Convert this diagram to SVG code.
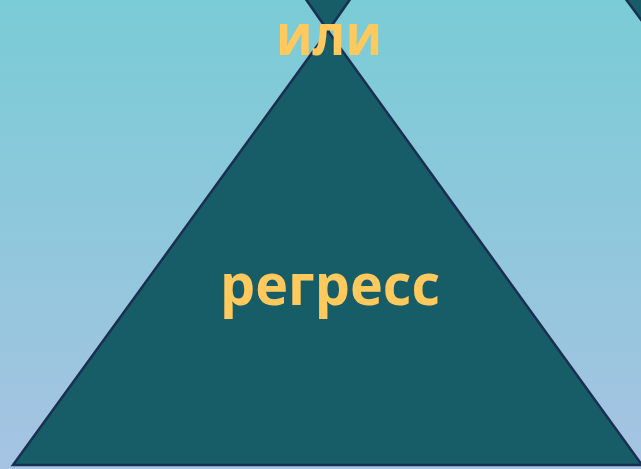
<svg xmlns="http://www.w3.org/2000/svg" width="641" height="469" viewBox="0 0 641 469">
<defs>
<linearGradient id="bg" x1="0" y1="0" x2="0" y2="1">
<stop offset="0" stop-color="#79CCD5"/>
<stop offset="1" stop-color="#A6C3E3"/>
</linearGradient>
<style>
.tri{fill:#175D67;stroke:#1B2F52;stroke-width:2.5;stroke-linejoin:miter}
.lbl{font-family:"Open Sans","Noto Sans","DejaVu Sans",sans-serif;font-weight:bold;fill:#FFC95E;text-anchor:middle}
</style>
</defs>
<rect width="641" height="469" fill="url(#bg)"/>
<g id="shapes">
<polygon id="top-inverted" class="tri" points="305,-2 351,-2 328,31"/>
<polygon id="top-right" class="tri" points="625,-2 645,-2 645,25"/>
<polygon id="main-triangle" class="tri" points="328,31 642,465 13,465"/>
</g>
<g id="labels">
<text id="label-ili" class="lbl" x="329" y="55" font-size="58" textLength="106" lengthAdjust="spacingAndGlyphs">или</text>
<text id="label-regress" class="lbl" x="330" y="305" font-size="58" textLength="220" lengthAdjust="spacingAndGlyphs">регресс</text>
</g>
</svg>
